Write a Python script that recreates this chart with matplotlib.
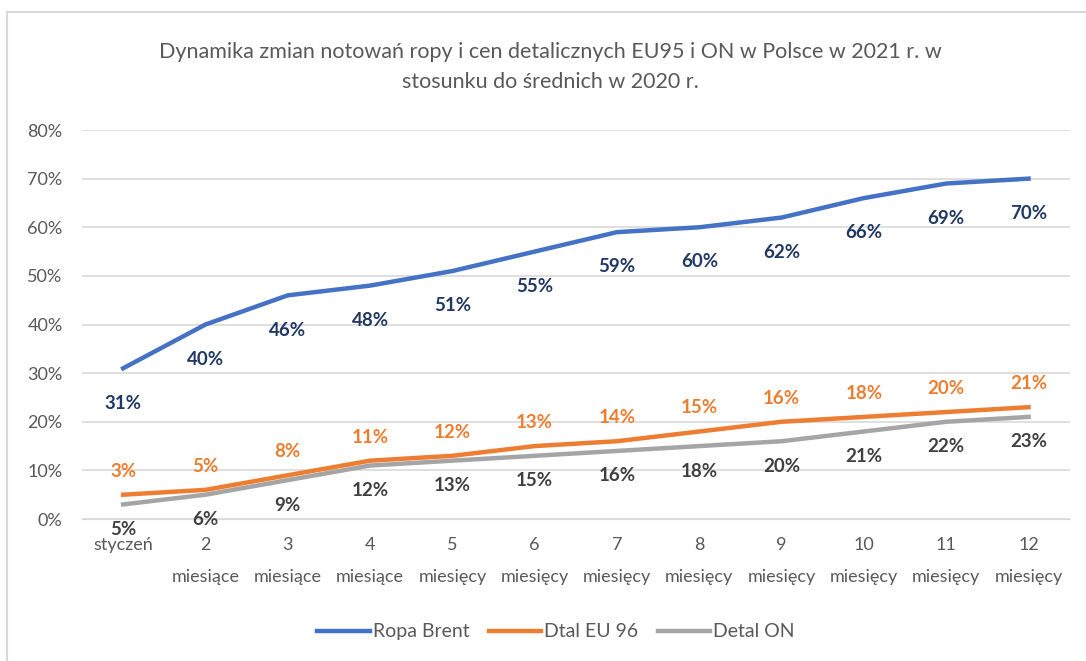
import matplotlib.pyplot as plt
from matplotlib.patches import Rectangle
from matplotlib.ticker import PercentFormatter
from matplotlib import font_manager

# dane
miesiace = ['styczeń', '2\nmiesiące', '3\nmiesiące', '4\nmiesiące', '5\nmiesięcy', '6\nmiesięcy',
            '7\nmiesięcy', '8\nmiesięcy', '9\nmiesięcy', '10\nmiesięcy', '11\nmiesięcy', '12\nmiesięcy']
ropa_brent = [31, 40, 46, 48, 51, 55, 59, 60, 62, 66, 69, 70]
dtal_eu96 = [5, 6, 9, 12, 13, 15, 16, 18, 20, 21, 22, 23]
detal_on = [3, 5, 8, 11, 12, 13, 14, 15, 16, 18, 20, 21]
# etykiety tak jak na oryginalnym wykresie
etykiety_eu96 = [3, 5, 8, 11, 12, 13, 14, 15, 16, 18, 20, 21]
etykiety_on = [5, 6, 9, 12, 13, 15, 16, 18, 20, 21, 22, 23]

dostepne = {f.name for f in font_manager.fontManager.ttflist}
rodzina = 'Liberation Sans Narrow' if 'Liberation Sans Narrow' in dostepne else 'Lato'
plt.rcParams['font.family'] = [rodzina, 'DejaVu Sans']

fig = plt.figure(figsize=(10.86, 6.61), dpi=100)
fig.patches.append(Rectangle((7 / 1086, -0.05), 1.1, (661 - 12) / 661 + 0.05,
                             transform=fig.transFigure, fill=False,
                             edgecolor='#D9D9D9', linewidth=1.5))
ax = fig.add_axes([0.0755, 0.2148, 0.9095, 0.5885])

x = list(range(len(miesiace)))
ax.plot(x, ropa_brent, color='#4472C4', linewidth=3.2, label='Ropa Brent', zorder=3)
ax.plot(x, dtal_eu96, color='#ED7D31', linewidth=3.2, label='Dtal EU 96', zorder=3)
ax.plot(x, detal_on, color='#A5A5A5', linewidth=3.2, label='Detal ON', zorder=2)

for i in x:
    ax.annotate(f'{ropa_brent[i]}%', (i, ropa_brent[i]), xytext=(0, -25), textcoords='offset points',
                ha='center', va='center', fontsize=13.5, fontweight='bold', color='#203864')
    ax.annotate(f'{etykiety_eu96[i]}%', (i, dtal_eu96[i]), xytext=(0, 17), textcoords='offset points',
                ha='center', va='center', fontsize=13.5, fontweight='bold', color='#ED7D31')
    ax.annotate(f'{etykiety_on[i]}%', (i, detal_on[i]), xytext=(0, -18), textcoords='offset points',
                ha='center', va='center', fontsize=13.5, fontweight='bold', color='#404040')

ax.set_xlim(-0.5, 11.5)
ax.set_ylim(0, 80)
ax.set_yticks(range(0, 81, 10))
ax.yaxis.set_major_formatter(PercentFormatter(decimals=0))
ax.set_xticks(x)
ax.set_xticklabels(miesiace, linespacing=2.2)
ax.tick_params(axis='both', length=0, labelsize=13, colors='#595959')
ax.tick_params(axis='x', pad=13)
ax.tick_params(axis='y', pad=14)
ax.grid(axis='y', color='#D9D9D9', linewidth=1.2)
ax.set_axisbelow(True)
for s in ax.spines.values():
    s.set_visible(False)
ax.spines['bottom'].set_visible(True)
ax.spines['bottom'].set_color('#D9D9D9')

fig.text(0.507, 0.899, 'Dynamika zmian notowań ropy i cen detalicznych EU95 i ON w Polsce w 2021 r. w\nstosunku do średnich w 2020 r.',
         ha='center', va='center', fontsize=15.5, color='#595959', linespacing=1.6)

fig.legend(loc='center', bbox_to_anchor=(0.512, 0.044), ncol=3, frameon=False,
           fontsize=14, handlelength=2.7, handletextpad=0.15, columnspacing=1.0,
           labelcolor='#595959')

fig.savefig('out.png', dpi=100)
